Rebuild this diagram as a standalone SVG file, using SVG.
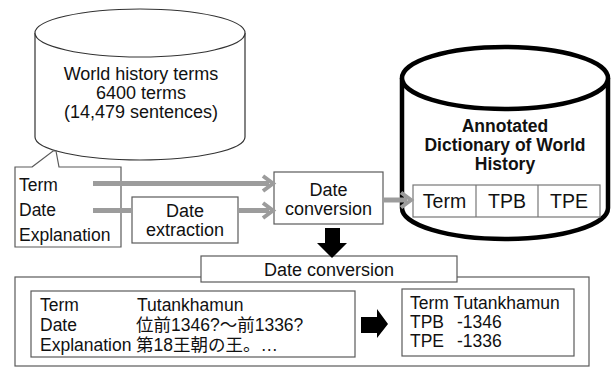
<svg xmlns="http://www.w3.org/2000/svg" width="615" height="368" viewBox="0 0 615 368">
<defs>
<style>
text{font-family:"Liberation Sans","Noto Sans CJK JP",sans-serif;fill:#111;}
.t17{font-size:17.5px;}
.t18{font-size:18px;}
.c{text-anchor:middle;}
.b{font-weight:bold;font-size:17.5px;}
.box{fill:#fff;stroke:#5a5a5a;stroke-width:1.2;}
.tbl{fill:#fff;stroke:#777;stroke-width:1.2;}
.gline{fill:none;stroke:#9c9c9c;stroke-width:5;}
.blk{fill:#000;}
</style>
<marker id="ah" markerUnits="userSpaceOnUse" markerWidth="16" markerHeight="20" viewBox="0 0 16 20" refX="8" refY="10" orient="auto">
<path d="M2,2.5 L12,10 L2,17.5" fill="none" stroke="#9c9c9c" stroke-width="4"/>
</marker>
</defs>

<g id="source-db">
<path d="M35,33 L35,137 A105,23 0 0 0 245,137 L245,33" fill="#fff" stroke="#333" stroke-width="1.2"/>
<ellipse cx="140" cy="33" rx="105" ry="24" fill="#fff" stroke="#333" stroke-width="1.2"/>
<text class="t18 c" x="141" y="80">World history terms</text>
<text class="t18 c" x="141" y="99">6400 terms</text>
<text class="t18 c" x="141" y="118">(14,479 sentences)</text>
</g>

<g id="fields-callout">
<path d="M32,167 L53,151 L56,151 L59,167 L121,167 L121,247 L15,247 L15,167 Z" class="box"/>
<text class="t17" x="19" y="191">Term</text>
<text class="t17" x="19" y="216">Date</text>
<text class="t17" x="19" y="241">Explanation</text>
</g>

<g id="date-extraction">
<rect x="132" y="197" width="106" height="46" class="box"/>
<text class="t18 c" x="185" y="217">Date</text>
<text class="t18 c" x="185" y="236">extraction</text>
</g>

<g id="date-conversion">
<rect x="274" y="172" width="109" height="52" class="box"/>
<text class="t18 c" x="328.5" y="196">Date</text>
<text class="t18 c" x="328.5" y="215">conversion</text>
</g>

<g id="annotated-dictionary">
<path d="M402,78 L402,208 A103,31 0 0 0 608,208 L608,78" fill="#fff" stroke="#000" stroke-width="4.5"/>
<ellipse cx="505" cy="78" rx="103" ry="31" fill="#fff" stroke="#000" stroke-width="4.5"/>
<text class="b c" x="505" y="132">Annotated</text>
<text class="b c" x="505" y="151">Dictionary of World</text>
<text class="b c" x="505" y="170">History</text>
<rect x="413" y="185" width="187" height="32" class="tbl"/>
<line x1="476" y1="185" x2="476" y2="217" stroke="#777" stroke-width="1.2"/>
<line x1="538" y1="185" x2="538" y2="217" stroke="#777" stroke-width="1.2"/>
<text class="c" style="font-size:19.5px" x="444.5" y="208">Term</text>
<text class="c" style="font-size:19.5px" x="507" y="208">TPB</text>
<text class="c" style="font-size:19.5px" x="569" y="208">TPE</text>
</g>

<g id="example-panel">
<rect x="15" y="277" width="574" height="89" class="box"/>
<g id="example-label">
<rect x="201" y="256" width="256" height="26" class="box"/>
<text class="t18 c" x="329" y="276">Date conversion</text>
</g>
<g id="example-input">
<rect x="31" y="291" width="324" height="66" class="box"/>
<text class="t17" x="40" y="311">Term</text>
<text class="t17" x="137" y="311">Tutankhamun</text>
<text class="t17" x="40" y="331">Date</text>
<text class="t17" x="136" y="331">位前1346?〜前1336?</text>
<text class="t17" x="40" y="351">Explanation</text>
<text class="t17" x="136" y="351">第18王朝の王。…</text>
</g>
<g id="example-output">
<rect x="402" y="289" width="172" height="67" class="box"/>
<text class="t17" x="410" y="309">Term Tutankhamun</text>
<text class="t17" x="410" y="328">TPB</text>
<text class="t17" x="457" y="328">-1346</text>
<text class="t17" x="410" y="347">TPE</text>
<text class="t17" x="457" y="347">-1336</text>
</g>
</g>

<g id="connectors">
<line x1="93" y1="183.5" x2="269" y2="183.5" class="gline" marker-end="url(#ah)"/>
<line x1="93" y1="210.5" x2="132" y2="210.5" class="gline"/>
<line x1="238" y1="210.5" x2="269" y2="210.5" class="gline" marker-end="url(#ah)"/>
<line x1="383" y1="200" x2="407" y2="200" class="gline" marker-end="url(#ah)"/>
<path class="blk" d="M325,228 L340,228 L340,243 L347,243 L332,258 L317,243 L325,243 Z"/>
<path class="blk" d="M361,317 L377,317 L377,309 L388,324 L377,338 L377,333 L361,333 Z"/>
</g>
</svg>
